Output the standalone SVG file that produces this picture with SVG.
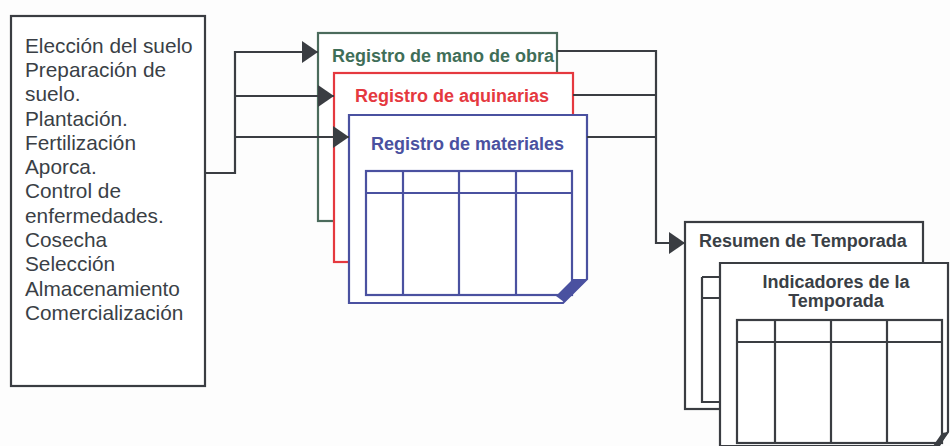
<svg xmlns="http://www.w3.org/2000/svg" width="950" height="446" viewBox="0 0 950 446">
<defs>
<style>
.box{fill:#ffffff;stroke:#3a3d42;stroke-width:2.2}
.ln{fill:none;stroke:#3a3d42;stroke-width:2.2}
.g{fill:#ffffff;stroke:#4b6b5c;stroke-width:2.2}
.r{fill:#ffffff;stroke:#e5393f;stroke-width:2.2}
.b{fill:#ffffff;stroke:#4a51a0;stroke-width:2.2}
.bl{fill:none;stroke:#4a51a0;stroke-width:2.2}
.dl{fill:none;stroke:#3a3d42;stroke-width:2.2}
.list{font-family:"Liberation Sans",Arial,sans-serif;font-size:20.8px;fill:#3a3f46}
.lab{font-family:"Liberation Sans",Arial,sans-serif;font-weight:bold;font-size:18px}
</style>
<marker id="ah" markerWidth="16" markerHeight="22" refX="16" refY="11" orient="auto" markerUnits="userSpaceOnUse">
<path d="M0,0 L16,11 L0,22 Z" fill="#3a3d42"/>
</marker>
</defs>
<rect width="950" height="446" fill="#fdfdfd"/>

<g id="actividades">
<rect class="box" x="11" y="16" width="194" height="370"/>
<g class="list">
<text x="25" y="53">Elección del suelo</text>
<text x="25" y="77">Preparación de</text>
<text x="25" y="101">suelo.</text>
<text x="25" y="126">Plantación.</text>
<text x="25" y="150">Fertilización</text>
<text x="25" y="174">Aporca.</text>
<text x="25" y="198">Control de</text>
<text x="25" y="223">enfermedades.</text>
<text x="25" y="247">Cosecha</text>
<text x="25" y="271">Selección</text>
<text x="25" y="296">Almacenamiento</text>
<text x="25" y="320">Comercialización</text>
</g>
</g>

<g id="mano-de-obra">
<rect class="g" x="318" y="33" width="239" height="188"/>
<text class="lab" x="332" y="62" fill="#3f6e58" font-size="17.5">Registro de mano de obra</text>
</g>

<g id="aquinarias">
<rect class="r" x="334" y="73" width="239" height="189"/>
<text class="lab" x="355" y="102" fill="#e5393f">Registro de aquinarias</text>
</g>

<g id="materiales">
<path class="b" d="M349,115 H587 V279 L563,303 H349 Z"/>
<polygon points="573,279 587,279 564,302 556,296" fill="#4a51a0"/>
<text class="lab" x="371" y="150" fill="#4a51a0">Registro de materiales</text>
<rect class="bl" x="366" y="171" width="206" height="124"/>
<path class="bl" d="M366,193 H572 M403,171 V295 M459,171 V295 M516,171 V295"/>
</g>

<g id="resumen">
<rect class="box" x="685" y="222" width="238" height="187"/>
<text class="lab" x="699" y="247" fill="#3a3f46" font-size="18.5">Resumen de Temporada</text>
<path class="dl" d="M702,277 V402 H730 M702,277 H730 M702,298 H730"/>
</g>

<g id="indicadores">
<path class="box" d="M720,263 H948 V432 L938,446 H720 Z"/>
<polygon points="942,433 948,432 940,446 933,446" fill="#3a3d42"/>
<text class="lab" x="836" y="288" fill="#3a3f46" text-anchor="middle">Indicadores de la</text>
<text class="lab" x="836" y="307" fill="#3a3f46" text-anchor="middle">Temporada</text>
<rect class="dl" x="737" y="320" width="205" height="123"/>
<path class="dl" d="M737,342 H942 M775,320 V443 M831,320 V443 M887,320 V443"/>
</g>

<g id="connectors">
<path class="ln" d="M205,173 H235 V52 H318" marker-end="url(#ah)"/>
<path class="ln" d="M235,96 H334" marker-end="url(#ah)"/>
<path class="ln" d="M235,137 H349" marker-end="url(#ah)"/>
<path class="ln" d="M557,51 H656 V243 H685" marker-end="url(#ah)"/>
<path class="ln" d="M573,95 H656"/>
<path class="ln" d="M587,137 H656"/>
</g>
</svg>
